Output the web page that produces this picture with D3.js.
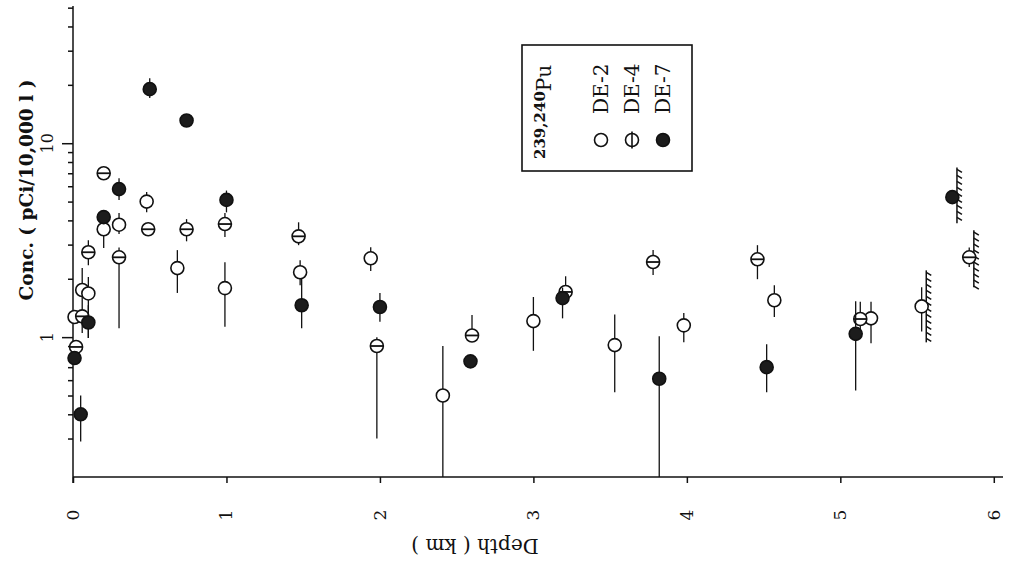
<!DOCTYPE html>
<html>
<head>
<meta charset="utf-8">
<style>
  body { margin: 0; background: #fff; }
  text { font-family: "DejaVu Serif", "Liberation Serif", serif; fill: #111; }
</style>
</head>
<body>
<svg width="1017" height="562"></svg>
<script src="https://d3js.org/d3.v7.min.js"></script>
<script>

// depth (km), conc, error low, error high
var de2Depth = [0.01, 0.06, 0.10, 0.20, 0.30, 0.48, 0.68, 0.99, 1.48, 1.94, 2.41, 3.00, 3.53, 3.98, 4.57, 5.20, 5.53];
var de2Conc  = [1.27, 1.75, 1.68, 3.6, 3.8, 5.0, 2.27, 1.79, 2.16, 2.55, 0.50, 1.21, 0.91, 1.15, 1.55, 1.25, 1.44];
var de2Lo    = [null, 1.05, 0.99, 2.88, 3.4, 4.4, 1.69, 1.13, 1.85, 2.19, 0.19, 0.85, 0.52, 0.94, 1.27, 0.93, 1.07];
var de2Hi    = [null, 2.27, 2.04, 4.25, 4.36, 5.6, 2.81, 2.43, 2.49, 2.91, 0.90, 1.61, 1.31, 1.33, 1.85, 1.52, 1.81];

var de4Depth = [0.02, 0.06, 0.10, 0.20, 0.30, 0.49, 0.74, 0.99, 1.47, 1.98, 2.60, 3.21, 3.78, 4.46, 5.13, 5.84];
var de4Conc  = [0.89, 1.28, 2.74, 7.0, 2.58, 3.6, 3.6, 3.83, 3.31, 0.90, 1.02, 1.71, 2.44, 2.52, 1.24, 2.58];
var de4Lo    = [0.83, null, 2.35, null, 1.11, null, 3.12, 3.28, 2.98, 0.30, 0.95, 1.5, 2.09, 1.99, 1.1, 2.3];
var de4Hi    = [0.95, null, 3.16, null, 2.9, null, 4.06, 4.36, 3.91, 1.0, 1.30, 2.06, 2.81, 2.98, 1.52, 2.9];

var de7Depth = [0.01, 0.05, 0.10, 0.20, 0.30, 0.50, 0.74, 1.00, 1.49, 2.00, 2.59, 3.19, 3.82, 4.52, 5.10, 5.73];
var de7Conc  = [0.78, 0.40, 1.19, 4.16, 5.8, 19, 13.1, 5.1, 1.46, 1.43, 0.75, 1.59, 0.61, 0.70, 1.04, 5.27];
var de7Lo    = [null, 0.29, 0.99, null, 5.1, 17.1, null, 4.4, 1.11, 1.2, 0.7, 1.25, 0.19, 0.52, 0.53, null];
var de7Hi    = [null, 0.50, 1.46, null, 6.6, 21.6, null, 5.7, 2.0, 1.69, 0.8, 1.8, 1.01, 0.92, 1.53, null];

// hatched range bars near the deepest samples
var hatchDepth = [5.56, 5.76, 5.87];
var hatchLo    = [0.94, 3.87, 1.81];
var hatchHi    = [2.21, 7.5, 3.56];

var xTicks = [0, 1, 2, 3, 4, 5, 6];
var yTicks = [0.3, 0.4, 0.5, 0.6, 0.7, 0.8, 0.9, 1, 2, 3, 4, 5, 6, 7, 8, 9, 10, 20, 30, 40, 50];
var yLabels = [1, 10];

var series = [
  {name: "DE-2", kind: "open", depth: de2Depth, conc: de2Conc, lo: de2Lo, hi: de2Hi},
  {name: "DE-4", kind: "bar", depth: de4Depth, conc: de4Conc, lo: de4Lo, hi: de4Hi},
  {name: "DE-7", kind: "filled", depth: de7Depth, conc: de7Conc, lo: de7Lo, hi: de7Hi}
];

var svg = d3.select("svg");

var x = d3.scaleLinear().domain([0, 6.06]).range([73, 1003]);
var y = d3.scaleLog().domain([0.19, 51]).range([477, 6]);

// axes
var yAxis = svg.append("g")
    .attr("transform", "translate(73,0)")
    .call(d3.axisLeft(y).tickValues(yTicks).tickSize(5).tickFormat(""));
yAxis.selectAll(".tick line").filter(function(d) { return yLabels.indexOf(d) >= 0; }).attr("x2", -11);
yAxis.select(".domain").attr("d", "M0," + (y.range()[0] + 6) + "V" + y.range()[1]);

var xAxis = svg.append("g")
    .attr("transform", "translate(0,477)")
    .call(d3.axisBottom(x).tickValues(xTicks).tickSize(6).tickFormat(""));
xAxis.select(".domain").attr("d", "M" + x.range()[0] + ",0H" + x.range()[1]);

svg.selectAll("g.tick line, .domain").attr("stroke", "#111").attr("stroke-width", 1.5);

svg.append("g").selectAll("text")
    .data(yLabels)
  .enter().append("text")
    .attr("transform", function(d) { return "translate(53," + y(d) + ") rotate(-90)"; })
    .attr("text-anchor", "middle")
    .attr("font-size", 16)
    .text(function(d) { return d; });

svg.append("g").selectAll("text")
    .data(xTicks)
  .enter().append("text")
    .attr("transform", function(d) { return "translate(" + (x(d) + 6) + ",515) rotate(-90)"; })
    .attr("text-anchor", "middle")
    .attr("font-size", 17)
    .text(function(d) { return d; });

svg.append("text")
    .attr("transform", "translate(33,190) rotate(-90)")
    .attr("text-anchor", "middle")
    .attr("font-size", 18.5)
    .attr("font-weight", "bold")
    .text("Conc. ( pCi/10,000 l )");

svg.append("text")
    .attr("transform", "translate(475,539) rotate(180)")
    .attr("text-anchor", "middle")
    .attr("font-size", 20)
    .text("Depth ( km )");

// hatched bars
var hatch = svg.append("g").attr("stroke", "#111");
hatchDepth.forEach(function(d, i) {
  var y0 = y(hatchHi[i]), y1 = y(hatchLo[i]), xx = x(d);
  hatch.append("line").attr("x1", xx).attr("x2", xx).attr("y1", y0).attr("y2", y1).attr("stroke-width", 1.5);
  d3.range(y0 + 2, y1, 6).forEach(function(t) {
    hatch.append("line").attr("x1", xx).attr("x2", xx + 5).attr("y1", t).attr("y2", t + 3).attr("stroke-width", 1.5);
  });
});

// error bars and markers
var r = 6.5;
series.forEach(function(s) {
  var pts = s.depth.map(function(d, i) { return {d: d, c: s.conc[i], lo: s.lo[i], hi: s.hi[i]}; });
  var g = svg.append("g");
  g.selectAll("line.err")
      .data(pts.filter(function(p) { return p.lo != null; }))
    .enter().append("line")
      .attr("class", "err")
      .attr("x1", function(p) { return x(p.d); })
      .attr("x2", function(p) { return x(p.d); })
      .attr("y1", function(p) { return y(p.hi); })
      .attr("y2", function(p) { return y(p.lo); })
      .attr("stroke", "#111")
      .attr("stroke-width", 1.3);
  var m = g.selectAll("g.m")
      .data(pts)
    .enter().append("g")
      .attr("transform", function(p) { return "translate(" + x(p.d) + "," + y(p.c) + ")"; });
  drawMarker(m, s.kind, false);
});

function drawMarker(sel, kind, legend) {
  sel.append("circle")
      .attr("r", r)
      .attr("fill", kind === "filled" ? "#1c1c1c" : "#fff")
      .attr("stroke", "#111")
      .attr("stroke-width", 1.6);
  if (kind === "bar") {
    if (legend) sel.append("line").attr("x1", 0).attr("x2", 0).attr("y1", -r - 2).attr("y2", r + 2).attr("stroke", "#111").attr("stroke-width", 1.6);
    else sel.append("line").attr("x1", -r).attr("x2", r).attr("y1", 0).attr("y2", 0).attr("stroke", "#111").attr("stroke-width", 1.8);
  }
}

// legend
var leg = svg.append("g");
leg.append("rect").attr("x", 522).attr("y", 45).attr("width", 170).attr("height", 126)
    .attr("fill", "none").attr("stroke", "#111").attr("stroke-width", 1.6);
var pu = leg.append("text")
    .attr("transform", "translate(551,159) rotate(-90)")
    .attr("font-size", 20);
pu.append("tspan").attr("font-size", 15).attr("font-weight", "bold").attr("dy", -6).text("239,240");
pu.append("tspan").attr("dy", 6).text("Pu");
series.forEach(function(s, i) {
  var cx = 601 + i * 31;
  drawMarker(leg.append("g").attr("transform", "translate(" + cx + ",140)"), s.kind, true);
  leg.append("text")
      .attr("transform", "translate(" + (cx + 7) + ",114) rotate(-90)")
      .attr("font-size", 20)
      .text(s.name);
});

</script>
</body>
</html>
